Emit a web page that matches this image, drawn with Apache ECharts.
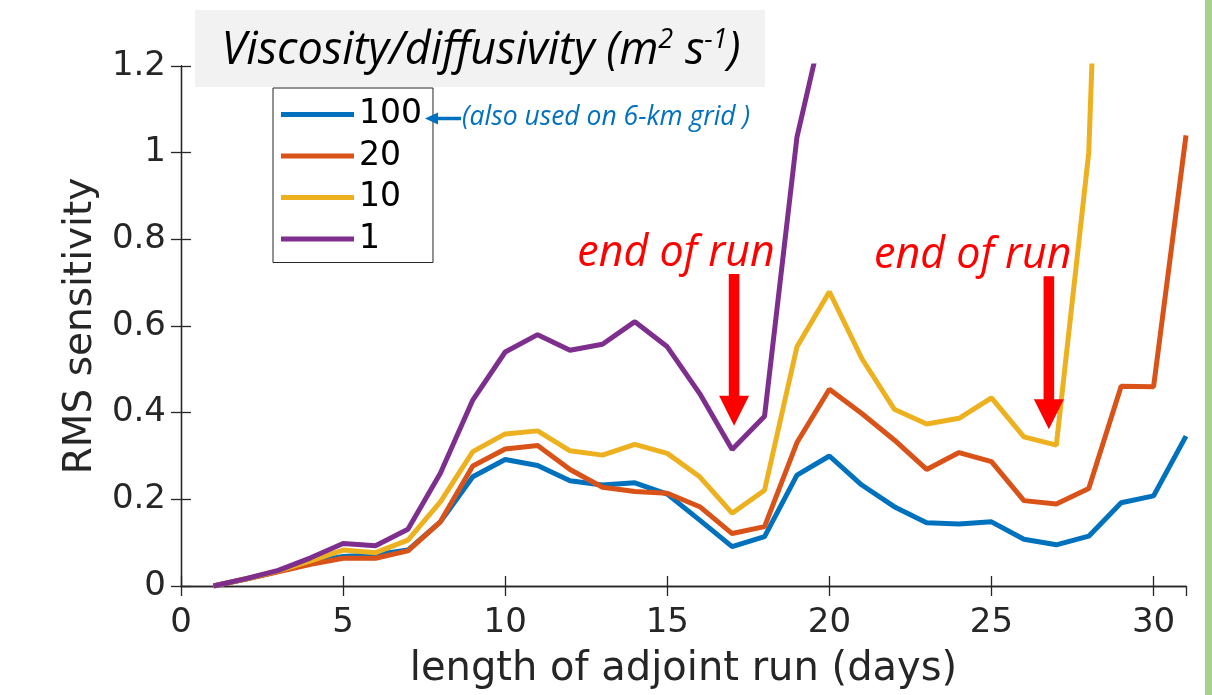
<!DOCTYPE html>
<html>
<head>
<meta charset="utf-8">
<script src="https://cdn.jsdelivr.net/npm/echarts@6/dist/echarts.min.js"></script>
<style>
html,body{margin:0;padding:0;background:#fff;}
#chart{width:1212px;height:695px;}
</style>
</head>
<body>
<div id="chart"></div>
<script>
const days = [1,2,3,4,5,6,7,8,9,10,11,12,13,14,15,16,17,18,19,20,21,22,23,24,25,26,27,28,29,30,31];
const seriesNames = ['100','20','10','1'];
const visc100 = [0,0.016,0.034,0.055,0.068,0.072,0.083,0.148,0.252,0.292,0.278,0.243,0.233,0.238,0.212,0.152,0.091,0.114,0.256,0.300,0.233,0.183,0.146,0.143,0.148,0.108,0.095,0.115,0.192,0.208,0.346];
const visc20 = [0,0.016,0.033,0.050,0.064,0.064,0.081,0.148,0.277,0.316,0.324,0.269,0.228,0.218,0.214,0.183,0.121,0.137,0.331,0.454,0.398,0.337,0.269,0.308,0.287,0.197,0.189,0.225,0.461,0.460,1.040];
const visc10 = [0,0.017,0.035,0.058,0.083,0.077,0.106,0.194,0.310,0.351,0.358,0.312,0.302,0.327,0.306,0.252,0.168,0.221,0.552,0.679,0.525,0.408,0.374,0.387,0.434,0.344,0.325,1.000,3.100,null,null];
const visc1 = [0,0.017,0.036,0.065,0.098,0.093,0.131,0.260,0.429,0.540,0.580,0.544,0.558,0.610,0.552,0.444,0.315,0.392,1.036,1.360,null,null,null,null,null,null,null,null,null,null,null];
const colors = ['#0072BD','#D95319','#EDB120','#7E2F8E'];
const yTicks = [0,0.2,0.4,0.6,0.8,1,1.2];
const xTicks = [0,5,10,15,20,25,30];
// annotation anchors: [day, tail value, tip value, label offset px]
const arrowRuns = [[17.06,0.72,0.37,-58],[26.77,0.715,0.362,-76]];

const chart = echarts.init(document.getElementById('chart'));
const allSeries = [visc100, visc20, visc10, visc1].map((vals, k) => ({
  name: seriesNames[k],
  type: 'line',
  data: days.map((d, i) => [d, vals[i]]),
  symbol: 'none',
  clip: true,
  lineStyle: {width: 5, color: colors[k]},
  itemStyle: {color: colors[k]},
  xAxisIndex: 0, yAxisIndex: 0
}));

const axisCol = '#262626';
const labelFont = {fontFamily: 'DejaVu Sans', fontSize: 34, color: axisCol};

chart.setOption({
  animation: false,
  grid: {left: 181, right: 26, top: 66, bottom: 109},
  xAxis: [{
    type: 'value', min: 0, max: 31, interval: 5, position: 'bottom',
    axisLine: {show: true, lineStyle: {color: axisCol, width: 1.3}},
    axisTick: {show: true, inside: true, length: 10, lineStyle: {color: axisCol, width: 1.3}},
    axisLabel: Object.assign({margin: 20, showMaxLabel: false, formatter: v => xTicks.includes(v) ? String(v) : ''}, labelFont),
    splitLine: {show: false},
    name: 'length of adjoint run (days)', nameLocation: 'middle', nameGap: 64,
    nameTextStyle: {fontFamily: 'DejaVu Sans', fontSize: 40, color: axisCol}
  },{
    type: 'value', min: 0, max: 31, interval: 5, position: 'top',
    axisLine: {show: true, lineStyle: {color: axisCol, width: 1.3}},
    axisTick: {show: true, inside: true, length: 10, lineStyle: {color: axisCol, width: 1.3}},
    axisLabel: {show: false}, splitLine: {show: false}
  }],
  yAxis: [{
    type: 'value', min: 0, max: 1.2, interval: 0.2, position: 'left',
    axisLine: {show: true, lineStyle: {color: axisCol, width: 1.3}},
    axisTick: {show: true, inside: true, length: 10, lineStyle: {color: axisCol, width: 1.3}},
    axisLabel: Object.assign({margin: 15, formatter: v => String(parseFloat(v.toFixed(1)))}, labelFont),
    splitLine: {show: false},
    name: 'RMS sensitivity', nameLocation: 'middle', nameGap: 81, nameRotate: 90,
    nameTextStyle: {fontFamily: 'DejaVu Sans', fontSize: 39, color: axisCol}
  },{
    type: 'value', min: 0, max: 1.2, interval: 0.2, position: 'right',
    axisLine: {show: true, lineStyle: {color: axisCol, width: 1.3}},
    axisTick: {show: true, inside: true, length: 10, lineStyle: {color: axisCol, width: 1.3}},
    axisLabel: {show: false}, splitLine: {show: false}
  }],
  legend: {
    data: seriesNames,
    orient: 'vertical', left: 273, top: 88,
    backgroundColor: '#fff', borderColor: '#262626', borderWidth: 1,
    padding: [10, 11, 7, 8], itemGap: 8.5,
    itemWidth: 73, itemHeight: 5, icon: 'rect',
    textStyle: {fontFamily: 'DejaVu Sans', fontSize: 33, color: '#000', lineHeight: 33}
  },
  series: allSeries
});

function buildGraphics() {
  const g = [];
  // green edge bar
  g.push({type: 'rect', shape: {x: 1205, y: 0, width: 7, height: 695}, style: {fill: '#a9d18e'}, z: 100});
  // title box
  g.push({type: 'rect', shape: {x: 195, y: 10, width: 570, height: 77}, style: {fill: '#f2f2f2'}, z: 100});
  g.push({type: 'text', x: 481, y: 51, z: 101, style: {
    text: '{t|Viscosity/diffusivity (m}{s|2}{t| s}{s|-1}{t|)}',
    align: 'center', verticalAlign: 'middle',
    rich: {
      t: {fontFamily: 'Open Sans', fontStyle: 'italic', fontSize: 45, fill: '#000'},
      s: {fontFamily: 'Open Sans', fontStyle: 'italic', fontSize: 27, fill: '#000', verticalAlign: 'top', padding: [0,0,22,0]}
    }
  }});
  // blue annotation
  g.push({type: 'line', shape: {x1: 436, y1: 118.5, x2: 461, y2: 118.5}, style: {stroke: '#0070C0', lineWidth: 3.5}, z: 101});
  g.push({type: 'polygon', shape: {points: [[425, 118.5], [438, 112.5], [438, 124.5]]}, style: {fill: '#0070C0'}, z: 101});
  g.push({type: 'text', x: 462, y: 117, z: 101, style: {
    text: '(also used on 6-km grid )', fontFamily: 'Open Sans', fontStyle: 'italic', fontSize: 26.5,
    fill: '#0070C0', align: 'left', verticalAlign: 'middle'
  }});
  // red arrows and labels
  arrowRuns.forEach(([d, tail, tip, off]) => {
    const pTail = chart.convertToPixel({xAxisIndex: 0, yAxisIndex: 0}, [d, tail]);
    const pTip = chart.convertToPixel({xAxisIndex: 0, yAxisIndex: 0}, [d, tip]);
    const headLen = 30, headHalf = 15, shaftHalf = 5.3;
    const x = pTail[0];
    g.push({type: 'polygon', z: 102, shape: {points: [
      [x - shaftHalf, pTail[1]], [x + shaftHalf, pTail[1]], [x + shaftHalf, pTip[1] - headLen],
      [x + headHalf, pTip[1] - headLen], [x, pTip[1]], [x - headHalf, pTip[1] - headLen],
      [x - shaftHalf, pTip[1] - headLen]
    ]}, style: {fill: '#FF0000'}});
    g.push({type: 'text', x: x + off, y: pTail[1] + 1, z: 102, style: {
      text: 'end of run', fontFamily: 'Open Sans', fontStyle: 'italic', fontSize: 43,
      fill: '#FF0000', align: 'center', verticalAlign: 'bottom'
    }});
  });
  chart.setOption({graphic: g});
}
buildGraphics();
</script>
</body>
</html>
